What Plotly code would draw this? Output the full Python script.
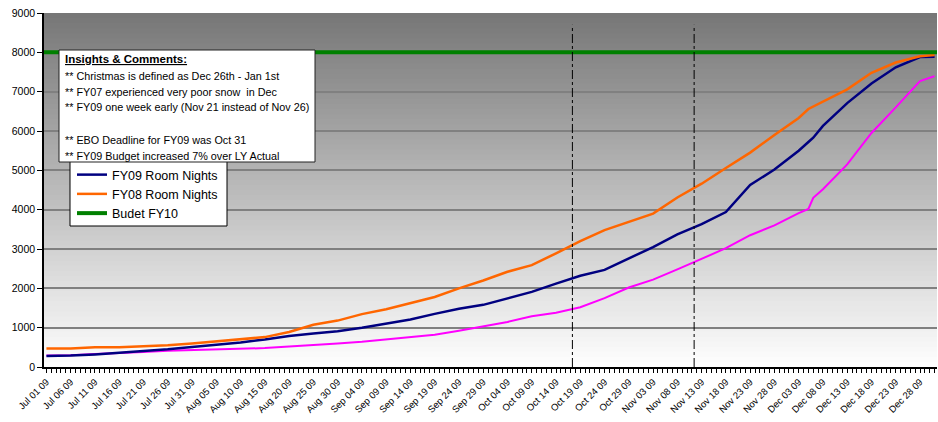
import plotly.graph_objects as go

# ---------------- data ----------------
sample_dates = [
    "2009-07-01", "2009-07-06", "2009-07-11", "2009-07-16", "2009-07-21", "2009-07-26",
    "2009-07-31", "2009-08-05", "2009-08-10", "2009-08-15", "2009-08-20", "2009-08-25",
    "2009-08-30", "2009-09-04", "2009-09-09", "2009-09-14", "2009-09-19", "2009-09-24",
    "2009-09-29", "2009-10-04", "2009-10-09", "2009-10-14", "2009-10-19", "2009-10-24",
    "2009-10-29", "2009-11-03", "2009-11-08", "2009-11-13", "2009-11-18", "2009-11-23",
    "2009-11-28", "2009-12-03", "2009-12-05", "2009-12-06", "2009-12-08", "2009-12-13",
    "2009-12-18", "2009-12-23", "2009-12-28", "2009-12-31",
]
fy09_room_nights = [
    280, 290, 320, 360, 400, 450, 510, 560, 625, 700, 790, 850,
    910, 1000, 1100, 1210, 1350, 1480, 1580, 1740, 1910, 2120, 2320, 2470,
    2760, 3050, 3370, 3630, 3940, 4630, 5020, 5500, 5720, 5830, 6130, 6710,
    7210, 7620, 7880, 7890,
]
fy08_room_nights = [
    470, 470, 500, 505, 530, 555, 600, 650, 712, 760, 890, 1076,
    1180, 1345, 1470, 1625, 1780, 2000, 2200, 2420, 2590, 2890, 3200, 3480,
    3690, 3900, 4310, 4660, 5060, 5450, 5900, 6330, 6560, 6620, 6750, 7060,
    7480, 7740, 7900, 7935,
]
fy07_room_nights = [
    290, 300, 330, 350, 380, 410, 430, 445, 458, 480, 520, 550,
    595, 640, 700, 760, 820, 920, 1040, 1145, 1290, 1380, 1520, 1750,
    2020, 2220, 2480, 2750, 3020, 3350, 3600, 3910, 4020, 4300, 4520, 5150,
    5950, 6600, 7270, 7394,
]
budget_dates = ["2009-06-30 12:00", "2009-12-31 12:00"]
budget_fy10 = [8000, 8000]

marker_dates = ["2009-10-17 09:00", "2009-11-11 11:00"]
marker_span = [0, 8700]

comment_title = "<b><u>Insights & Comments:</u></b>"
comment_lines = [
    "** Christmas is defined as Dec 26th - Jan 1st",
    "** FY07 experienced very poor snow  in Dec",
    "** FY09 one week early (Nov 21 instead of Nov 26)",
    "",
    "** EBO Deadline for FY09 was Oct 31",
    "** FY09 Budget increased 7% over LY Actual",
]

FONT = "Liberation Sans, Arial, sans-serif"

fig = go.Figure()

fig.add_trace(go.Scatter(x=sample_dates, y=fy07_room_nights, mode="lines",
                         line=dict(color="#FF00FF", width=2), name="FY07 Room Nights",
                         showlegend=False))
fig.add_trace(go.Scatter(x=sample_dates, y=fy09_room_nights, mode="lines",
                         line=dict(color="#000080", width=2.5), name="FY09 Room Nights"))
fig.add_trace(go.Scatter(x=sample_dates, y=fy08_room_nights, mode="lines",
                         line=dict(color="#FF6600", width=2.5), name="FY08 Room Nights"))
fig.add_trace(go.Scatter(x=budget_dates, y=budget_fy10, mode="lines",
                         line=dict(color="#008000", width=4), name="Budet FY10"))
for d in marker_dates:
    fig.add_trace(go.Scatter(x=[d, d], y=marker_span, mode="lines",
                             line=dict(color="black", width=1, dash="dashdot"),
                             showlegend=False, hoverinfo="skip"))

# gradient background bands (overlapping to avoid seams)
shapes = []
N = 70
top = (118, 118, 118)
bot = (255, 255, 255)
for k in range(N):
    t = (k + 0.5) / N  # 0 bottom -> 1 top
    c = [round(bot[j] + (top[j] - bot[j]) * t) for j in range(3)]
    shapes.append(dict(type="rect", xref="paper", yref="paper",
                       x0=0, x1=1, y0=k / N, y1=min(1.0, (k + 1.6) / N),
                       fillcolor="rgb(%d,%d,%d)" % tuple(c),
                       line=dict(width=0), layer="below"))

PLOT_L, PLOT_W, PLOT_B, PLOT_H = 44, 893, 367, 354


def px(xp):
    return (xp - PLOT_L) / PLOT_W


def py(yp):
    return (PLOT_B - yp) / PLOT_H


# legend box (partly hidden under the comment box)
shapes.append(dict(type="rect", xref="paper", yref="paper",
                   x0=px(70), x1=px(227), y0=py(226), y1=py(150),
                   fillcolor="white", line=dict(color="black", width=1), layer="above"))
# comment box
shapes.append(dict(type="rect", xref="paper", yref="paper",
                   x0=px(59), x1=px(315), y0=py(162), y1=py(50),
                   fillcolor="white", line=dict(color="#222222", width=1), layer="above"))

annotations = [dict(xref="paper", yref="paper", x=px(63), y=py(59.5),
                    xanchor="left", yanchor="middle", align="left",
                    text=comment_title, showarrow=False,
                    font=dict(family=FONT, size=11.5, color="black"))]
line_y = [75.5, 91.5, 107.5, 123.5, 139.5, 155.5]
for txt, yv in zip(comment_lines, line_y):
    if txt:
        annotations.append(dict(xref="paper", yref="paper", x=px(63), y=py(yv),
                                xanchor="left", yanchor="middle", align="left",
                                text=txt, showarrow=False,
                                font=dict(family=FONT, size=10.8, color="black")))

fig.update_layout(
    width=938, height=422,
    margin=dict(l=PLOT_L, r=1, t=13, b=55),
    paper_bgcolor="white", plot_bgcolor="white",
    font=dict(family=FONT, color="black", size=11),
    shapes=shapes,
    annotations=annotations,
    showlegend=True,
    legend=dict(x=px(72), y=py(160), xanchor="left", yanchor="top",
                bgcolor="rgba(0,0,0,0)", borderwidth=0,
                font=dict(family=FONT, size=12.5, color="black"),
                tracegroupgap=0),
)

fig.update_xaxes(
    type="date",
    range=["2009-06-30 12:00", "2009-12-31 12:00"],
    tick0="2009-07-01", dtick=5 * 86400000,
    tickformat="%b %d %y", tickangle=-45,
    tickfont=dict(family=FONT, size=9.5, color="black"),
    ticks="outside", ticklen=4, tickcolor="black",
    minor=dict(dtick=86400000, ticks="outside", ticklen=4, tickcolor="black", showgrid=False),
    showline=True, linecolor="black", linewidth=1.5,
    showgrid=False, zeroline=False,
)
fig.update_yaxes(
    range=[0, 9000], dtick=1000,
    tickfont=dict(family=FONT, size=10.5, color="black"),
    ticks="outside", ticklen=5, tickcolor="black",
    showline=True, linecolor="black", linewidth=1.5,
    showgrid=True, gridcolor="#808080", gridwidth=1.5,
    zeroline=False,
)

fig.write_html("out.html")
